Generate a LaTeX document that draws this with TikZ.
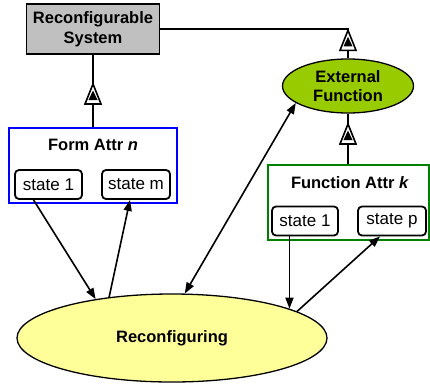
\documentclass[tikz,border=0pt]{standalone}
\usepackage{fontspec}
\setmainfont{Liberation Sans}
\usetikzlibrary{shapes.geometric,arrows.meta,decorations.markings}
\definecolor{sysgray}{HTML}{C0C0C0}
\definecolor{extgreen}{HTML}{99CC00}
\definecolor{reconfyellow}{HTML}{FFFF99}
\definecolor{attrgreen}{HTML}{008000}
\tikzset{
  gen/.style={postaction={decorate},decoration={markings,
    mark=at position #1 with {
      \draw[fill=white,line width=1.6pt] (0pt,0pt) -- (-20pt,8pt) -- (-20pt,-8pt) -- cycle;
      \fill (-6.5pt,0pt) -- (-16pt,4.5pt) -- (-16pt,-4.5pt) -- cycle;}}},
}
\begin{document}
\begin{tikzpicture}[x=1pt, y=-1pt,
    sysbox/.style={rectangle, draw, line width=1.5pt, fill=sysgray, minimum width=133, minimum height=50,
      align=center, inner sep=0pt, font=\fontsize{16.5}{19.5}\selectfont\bfseries},
    extell/.style={ellipse, draw, line width=1.3pt, fill=extgreen, minimum width=131, minimum height=54,
      align=center, inner sep=0pt, font=\fontsize{16.5}{19.5}\selectfont\bfseries},
    attrbox/.style={rectangle, line width=2pt, minimum height=75, inner sep=0pt},
    attrtitle/.style={inner sep=0pt, font=\fontsize{16.5}{19.5}\selectfont\bfseries},
    statebox/.style={rectangle, draw, rounded corners=4pt, line width=1.8pt, minimum height=29,
      inner sep=2pt, font=\fontsize{17}{20}\selectfont},
    reconfell/.style={ellipse, draw, line width=1.3pt, fill=reconfyellow, minimum width=310, minimum height=88,
      inner sep=0pt, font=\fontsize{16.5}{19.5}\selectfont\bfseries},
    conn/.style={line width=1.8pt},
    arr/.style={line width=1.6pt, -{Triangle[length=11pt,width=8pt]}}]
    \useasboundingbox (0,0) rectangle (430,383);
    % classes
    \node[sysbox] (sys) at (93,29) {Reconfigurable\\System};
    \node[extell] (ext) at (348,86) {External\\Function};
    % attributes with their states
    \node[attrbox, draw=blue, minimum width=168] (form) at (93,165.5) {};
    \node[attrtitle] (formtitle) at (93,145) {Form Attr \textit{n}};
    \node[statebox, minimum width=67] (fs1) at (48.5,184.5) {state 1};
    \node[statebox, minimum width=68] (fsm) at (136,184.5) {state m};
    \node[attrbox, draw=attrgreen, minimum width=161] (func) at (348,202.5) {};
    \node[attrtitle] (functitle) at (350,183) {Function Attr \textit{k}};
    \node[statebox, minimum width=66] (ks1) at (305,221) {state 1};
    \node[statebox, minimum width=68] (ksp) at (392,221) {state p};
    \node[reconfell] (reconf) at (172,338) {Reconfiguring};
    % generalisations
    \draw[conn, gen=43pt] (form.north) -- (sys.south);
    \draw[conn, gen=28pt] (ext.north) |- (sys.east);
    \draw[conn, gen=40pt] (func.north) -- (ext.south);
    % transitions
    \draw[arr] ([xshift=-15pt]fs1.south) -- (reconf.153);
    \draw[arr] (reconf.147) -- ([xshift=-6pt]fsm.south);
    \draw[arr, {Triangle[length=11pt,width=8pt]}-{Triangle[length=11pt,width=8pt]}] (reconf.74) -- (ext.198);
    \draw[arr] (reconf.14 |- ks1.south) -- (reconf.14);
    \draw[arr] (reconf.12.6) -- ([xshift=-12pt]ksp.south);
\end{tikzpicture}
\end{document}
